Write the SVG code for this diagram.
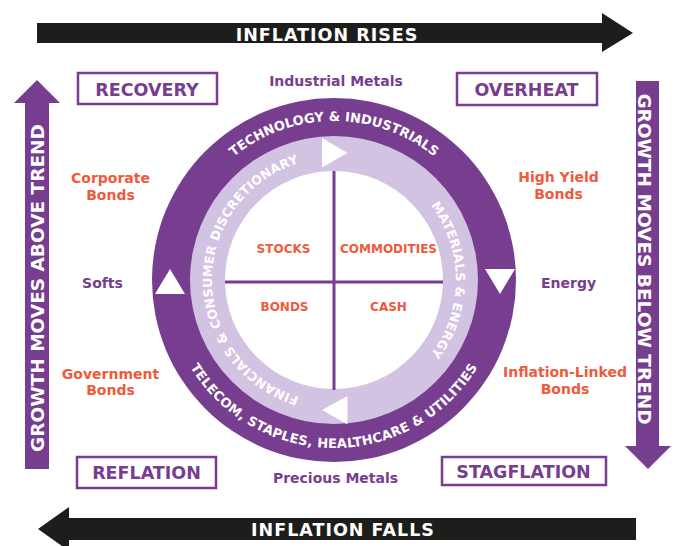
<svg xmlns="http://www.w3.org/2000/svg" width="676" height="546" viewBox="0 0 676 546">
<style>
text{font-family:"DejaVu Sans","Liberation Sans",sans-serif;font-weight:bold}
.arrow{fill:#1d1d1b}
.varrow{fill:#773d8f}
.atext{fill:#fff;font-size:17.5px;letter-spacing:1px;text-anchor:middle}
.vtext{fill:#fff;font-size:18.5px;text-anchor:middle}
.box{fill:#fff;stroke:#773d8f;stroke-width:2.5}
.btext{fill:#773d8f;font-size:17.5px;text-anchor:middle}
.pur{fill:#773d8f;font-size:14px;text-anchor:middle}
.org{fill:#ef5a3d;font-size:14px;text-anchor:middle}
.ring{fill:#fff;font-size:13px}
.lring{fill:#fff;font-size:12.5px}
.center{fill:#ef5a3d;font-size:12px;text-anchor:middle}
.tri{fill:#fff}
.cross{stroke:#773d8f;stroke-width:3}
</style>
<defs>
<path id="pTop" d="M175,280 A159,159 0 0 1 493,280"/>
<path id="pBot" d="M166,280 A168,168 0 0 0 502,280"/>
<path id="pLeft" d="M334,402 A122,122 0 0 1 334,158"/>
<path id="pRight" d="M334,158 A122,122 0 0 1 334,402"/>
</defs>

<g id="inflation-rises">
<polygon class="arrow" points="37,23 602,23 602,13 633,33 602,52 602,43 37,43"/>
<text class="atext" x="327" y="40.5">INFLATION RISES</text>
</g>
<g id="inflation-falls">
<polygon class="arrow" points="636,518 69,518 69,507 38,529 69,551 69,540 636,540"/>
<text class="atext" x="343" y="536">INFLATION FALLS</text>
</g>
<g id="growth-above">
<polygon class="varrow" points="25,469 25,103 14,103 37,80 60,103 49,103 49,469"/>
<text class="vtext" transform="translate(44,288) rotate(-90)">GROWTH MOVES ABOVE TREND</text>
</g>
<g id="growth-below">
<polygon class="varrow" points="636,81 659,81 659,446 671,446 648,469 625,446 636,446"/>
<text class="vtext" transform="translate(638,259) rotate(90)">GROWTH MOVES BELOW TREND</text>
</g>

<g id="recovery">
<rect class="box" x="78" y="73" width="139" height="31"/>
<text class="btext" x="147" y="96">RECOVERY</text>
</g>
<g id="overheat">
<rect class="box" x="457" y="73" width="140" height="32"/>
<text class="btext" x="526.5" y="96">OVERHEAT</text>
</g>
<g id="reflation">
<rect class="box" x="77" y="457" width="139" height="31"/>
<text class="btext" x="146.5" y="478.5">REFLATION</text>
</g>
<g id="stagflation">
<rect class="box" x="442" y="457" width="164" height="28"/>
<text class="btext" x="523.5" y="478">STAGFLATION</text>
</g>

<g id="labels">
<text class="pur" x="336" y="86">Industrial Metals</text>
<text class="pur" x="335.5" y="482.5">Precious Metals</text>
<text class="org" x="110.5" y="183">Corporate</text>
<text class="org" x="110.5" y="199.5">Bonds</text>
<text class="pur" x="102.5" y="287.5">Softs</text>
<text class="org" x="110.5" y="378.5">Government</text>
<text class="org" x="110.5" y="395">Bonds</text>
<text class="org" x="558.5" y="182">High Yield</text>
<text class="org" x="558.5" y="198.5">Bonds</text>
<text class="pur" x="568.5" y="288">Energy</text>
<text class="org" x="565" y="377">Inflation-Linked</text>
<text class="org" x="565" y="393.5">Bonds</text>
</g>

<g id="cycle">
<circle cx="334" cy="280" r="182" fill="#773d8f"/>
<circle cx="334" cy="280" r="144" fill="#d3c3e2"/>
<circle cx="334" cy="280" r="109" fill="#fff"/>
<text class="ring"><textPath href="#pTop" startOffset="50%" text-anchor="middle">TECHNOLOGY &amp; INDUSTRIALS</textPath></text>
<text class="ring" letter-spacing="0.25"><textPath href="#pBot" startOffset="50%" text-anchor="middle">TELECOM, STAPLES, HEALTHCARE &amp; UTILITIES</textPath></text>
<text class="lring" letter-spacing="0.3"><textPath href="#pLeft" startOffset="50%" text-anchor="middle">FINANCIALS &amp; CONSUMER DISCRETIONARY</textPath></text>
<text class="lring" letter-spacing="0.3"><textPath href="#pRight" startOffset="50%" text-anchor="middle">MATERIALS &amp; ENERGY</textPath></text>
<polygon class="tri" points="322,138 322,167.5 347.5,153"/>
<polygon class="tri" points="347.5,396 347.5,424.5 322,410"/>
<polygon class="tri" points="155,294 185,294 170,269"/>
<polygon class="tri" points="485,269 515,269 500,294"/>
</g>

<g id="connectors">
<line class="cross" x1="334" y1="171" x2="334" y2="390"/>
<line class="cross" x1="225" y1="282" x2="443" y2="282"/>
</g>

<g id="quadrants">
<text class="center" x="283.5" y="253">STOCKS</text>
<text class="center" x="388.5" y="252.5">COMMODITIES</text>
<text class="center" x="284.5" y="311">BONDS</text>
<text class="center" x="388.5" y="311">CASH</text>
</g>
</svg>
